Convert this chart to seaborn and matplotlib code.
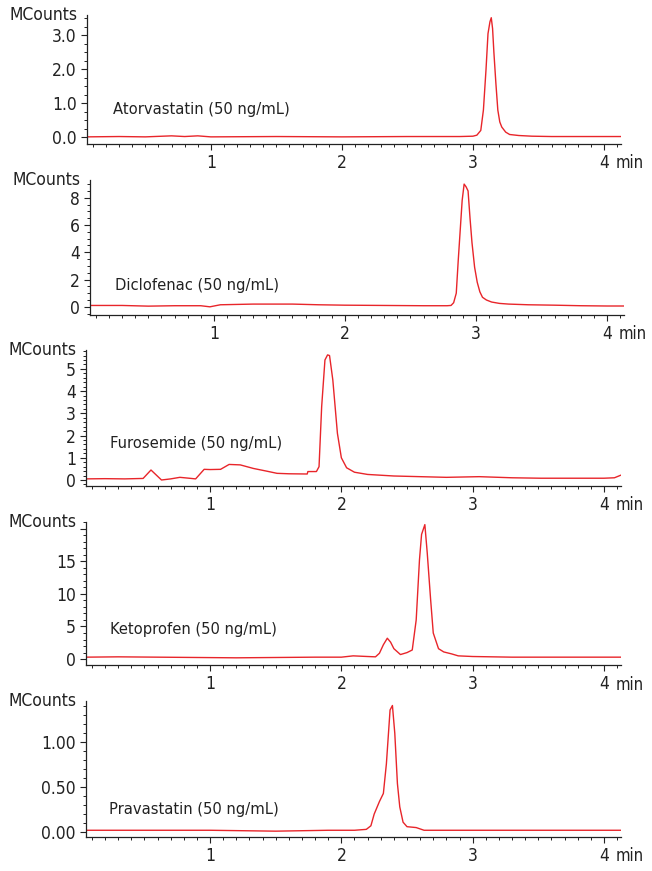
import matplotlib
matplotlib.use("Agg")
import matplotlib.pyplot as plt
import matplotlib.transforms as mtransforms
from matplotlib.ticker import FixedLocator, MultipleLocator
import seaborn as sns
import pandas as pd

# Retention time (min) and intensity (MCounts)
atorva_t = [0.05, 0.3, 0.5, 0.7, 0.8, 0.9, 1.0, 1.5, 2.0, 2.5, 2.9, 3.0, 3.03, 3.06, 3.08, 3.10,
            3.115, 3.13, 3.14, 3.15, 3.16, 3.175, 3.19, 3.205, 3.22, 3.25, 3.28, 3.35, 3.45, 3.6,
            3.8, 4.0, 4.13]
atorva_y = [0.01, 0.02, 0.01, 0.04, 0.02, 0.04, 0.01, 0.02, 0.01, 0.02, 0.02, 0.03, 0.06, 0.2, 0.8, 2.0,
            3.05, 3.4, 3.52, 3.2, 2.5, 1.6, 0.8, 0.45, 0.3, 0.15, 0.08, 0.05, 0.03, 0.02,
            0.02, 0.02, 0.02]

diclo_t = [0.05, 0.3, 0.5, 0.7, 0.9, 0.97, 1.05, 1.3, 1.6, 1.8, 2.0, 2.3, 2.6, 2.78, 2.81, 2.83,
           2.85, 2.865, 2.88, 2.895, 2.91, 2.925, 2.94, 2.955, 2.97, 2.99, 3.01, 3.03, 3.05, 3.08,
           3.12, 3.18, 3.25, 3.4, 3.6, 3.8, 4.0, 4.13]
diclo_y = [0.1, 0.1, 0.05, 0.08, 0.08, 0.0, 0.15, 0.2, 0.2, 0.15, 0.12, 0.1, 0.08, 0.08, 0.1, 0.3,
           1.0, 3.4, 5.6, 7.8, 9.0, 8.8, 8.5, 6.5, 4.7, 2.9, 1.8, 1.1, 0.7, 0.5,
           0.35, 0.25, 0.2, 0.15, 0.12, 0.08, 0.06, 0.06]

furo_t = [0.05, 0.2, 0.35, 0.49, 0.55, 0.63, 0.7, 0.77, 0.84, 0.89, 0.955, 1.0, 1.08, 1.145, 1.23,
          1.33, 1.43, 1.51, 1.6, 1.74, 1.745, 1.81, 1.83, 1.85, 1.875, 1.895, 1.91, 1.935, 1.97,
          2.0, 2.04, 2.1, 2.2, 2.4, 2.6, 2.8, 3.05, 3.3, 3.52, 3.8, 4.0, 4.08, 4.13]
furo_y = [0.05, 0.06, 0.05, 0.07, 0.45, 0.0, 0.05, 0.12, 0.08, 0.05, 0.48, 0.47, 0.48, 0.7, 0.68,
          0.52, 0.4, 0.3, 0.28, 0.27, 0.38, 0.38, 0.6, 3.3, 5.4, 5.63, 5.6, 4.5, 2.1,
          1.0, 0.55, 0.35, 0.25, 0.18, 0.15, 0.12, 0.15, 0.1, 0.08, 0.08, 0.08, 0.1, 0.22]

keto_t = [0.05, 0.3, 0.6, 0.9, 1.2, 1.5, 1.8, 2.0, 2.09, 2.2, 2.26, 2.29, 2.32, 2.35, 2.375, 2.40,
          2.45, 2.5, 2.54, 2.57, 2.595, 2.611, 2.636, 2.654, 2.68, 2.70, 2.74, 2.78, 2.84, 2.89,
          3.0, 3.3, 3.6, 3.9, 4.13]
keto_y = [0.3, 0.35, 0.3, 0.25, 0.2, 0.25, 0.3, 0.3, 0.5, 0.4, 0.35, 0.9, 2.2, 3.2, 2.6, 1.6,
          0.7, 1.0, 1.4, 6.0, 15.2, 19.1, 20.6, 16.3, 9.1, 4.0, 1.6, 1.1, 0.8, 0.5,
          0.4, 0.3, 0.3, 0.3, 0.3]

prava_t = [0.05, 0.5, 1.0, 1.5, 1.9, 2.1, 2.19, 2.225, 2.25, 2.29, 2.32, 2.343, 2.371, 2.389,
           2.407, 2.427, 2.445, 2.47, 2.5, 2.57, 2.63, 3.0, 3.5, 4.0, 4.13]
prava_y = [0.02, 0.02, 0.02, 0.01, 0.02, 0.02, 0.03, 0.07, 0.2, 0.34, 0.43, 0.76, 1.36, 1.41,
           1.1, 0.54, 0.28, 0.11, 0.06, 0.05, 0.02, 0.02, 0.02, 0.02, 0.02]

names = ["Atorvastatin (50 ng/mL)", "Diclofenac (50 ng/mL)", "Furosemide (50 ng/mL)",
         "Ketoprofen (50 ng/mL)", "Pravastatin (50 ng/mL)"]
traces = [(atorva_t, atorva_y), (diclo_t, diclo_y), (furo_t, furo_y),
          (keto_t, keto_y), (prava_t, prava_y)]
y_ticks = [[0, 1, 2, 3], [0, 2, 4, 6, 8], [0, 1, 2, 3, 4, 5], [0, 5, 10, 15, 20], [0, 0.5, 1.0]]
y_labels = [["0.0", "1.0", "2.0", "3.0"], ["0", "2", "4", "6", "8"],
            ["0", "1", "2", "3", "4", "5"], ["0", "5", "10", "15", ""], ["0.00", "0.50", "1.00"]]
x_ticks = [1, 2, 3, 4]
x_labels = ["1", "2", "3", "4"]

# layout (axes boxes in pixels: left, right, top, bottom) and per-panel scale
boxes = [(87, 621, 15, 144), (90, 624, 180, 315), (86, 621, 350, 486),
         (86, 621, 522, 665), (86, 621, 701, 837)]
y_lims = [(-0.2, 3.6), (-0.6, 9.3), (-0.27, 5.85), (-0.9, 21.0), (-0.055, 1.46)]
y_minor = [0.25, 0.5, 0.2, 1.0, 0.1]
label_pos = [(0.049, 0.264), (0.047, 0.222), (0.045, 0.316), (0.045, 0.245), (0.043, 0.199)]

sns.set_style("ticks")
plt.rcParams["font.family"] = ["Liberation Sans Narrow", "DejaVu Sans"]
plt.rcParams["font.stretch"] = "condensed"

W, H = 652, 871
fig = plt.figure(figsize=(W / 100, H / 100), dpi=100)
RED = "#e8252a"
INK = "#222222"

for i in range(5):
    l, r, t, b = boxes[i]
    ax = fig.add_axes([l / W, 1 - b / H, (r - l) / W, (b - t) / H])
    df = pd.DataFrame({"time": traces[i][0], "counts": traces[i][1]})
    sns.lineplot(data=df, x="time", y="counts", color=RED, linewidth=1.0, ax=ax, sort=False)

    ax.set_xlim(0.055, 4.13)
    ax.set_ylim(*y_lims[i])
    ax.xaxis.set_major_locator(FixedLocator(x_ticks))
    ax.set_xticklabels(x_labels)
    ax.xaxis.set_minor_locator(MultipleLocator(0.1))
    ax.yaxis.set_major_locator(FixedLocator(y_ticks[i]))
    ax.set_yticklabels(y_labels[i])
    ax.yaxis.set_minor_locator(MultipleLocator(y_minor[i]))
    ax.set_xlabel("")
    ax.set_ylabel("")

    for side in ["top", "right"]:
        ax.spines[side].set_visible(False)
    for side in ["left", "bottom"]:
        ax.spines[side].set_color(INK)
        ax.spines[side].set_linewidth(0.9)
    ax.tick_params(which="major", direction="out", length=4.3, width=0.8, color=INK,
                   labelsize=12.5, labelcolor=INK, pad=3.0)
    ax.tick_params(which="minor", direction="out", length=2.4, width=0.7, color=INK)

    ax.text(-0.018, 1.0, "MCounts", transform=ax.transAxes, ha="right", va="center",
            fontsize=12.5, color=INK)
    ax.text(label_pos[i][0], label_pos[i][1], names[i], transform=ax.transAxes,
            ha="left", va="center", fontsize=11.8, color=INK)
    trans = mtransforms.blended_transform_factory(ax.transData, ax.transAxes)
    ax.text(4.09, -0.075, "min", transform=trans, ha="left", va="top", fontsize=12, color=INK)

fig.savefig("out.png", dpi=100)
